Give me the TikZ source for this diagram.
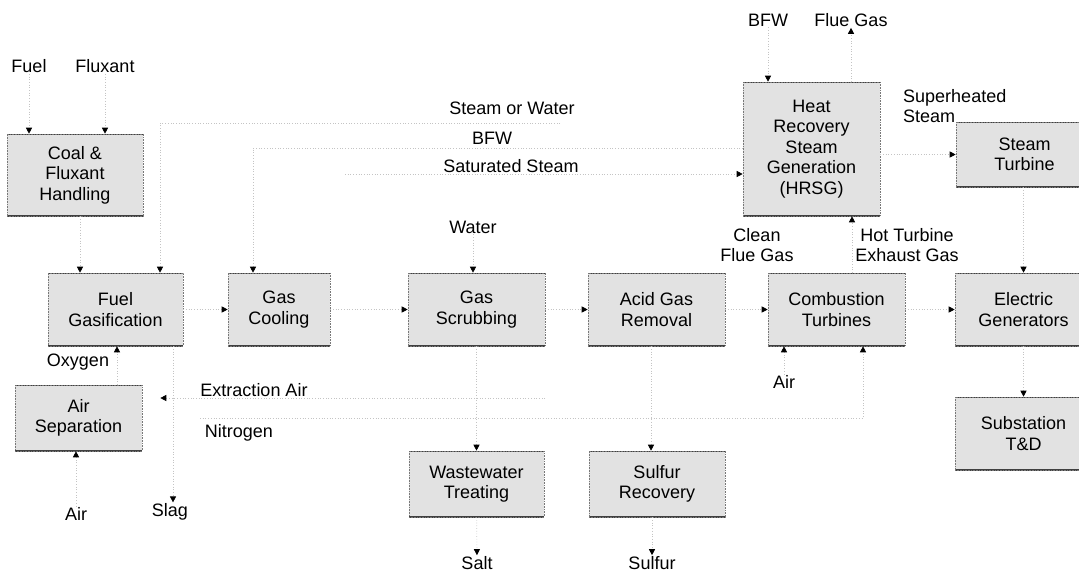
\documentclass[tikz,border=0pt]{standalone}
\usepackage{fontspec}
\setmainfont{Liberation Sans}
\usepackage{tikz}
\usetikzlibrary{arrows.meta, positioning, calc}
\definecolor{unitgray}{RGB}{226,226,226}
\definecolor{edgegray}{RGB}{120,120,120}
\definecolor{linegray}{RGB}{196,196,196}
\tikzstyle{unit} = [rectangle, fill=unitgray, draw=edgegray, densely dotted, line width=0.6pt, text centered, align=center, inner sep=0pt, font=\fontsize{18}{20.5}\selectfont,
  path picture={\draw[solid, black!75, line width=1.6pt] (path picture bounding box.north west) -- (path picture bounding box.north east) (path picture bounding box.south west) -- (path picture bounding box.south east);}]
\tikzstyle{tag} = [inner sep=1pt, align=center, font=\fontsize{18}{20.5}\selectfont]
\tikzstyle{flow} = [draw=linegray, dotted, line width=0.7pt, -{Triangle[length=6pt, width=6pt, color=black]}]

\begin{document}
\begin{tikzpicture}[x=1pt, y=-1pt]
\useasboundingbox (0,0) rectangle (1079,574);

% ===== PROCESS UNITS =====
\node (coal) [unit, minimum width=136pt, minimum height=82pt] at (75,175) {Coal \&\\Fluxant\\Handling};
\node (gasif) [unit, minimum width=135pt, minimum height=73pt] at (115.5,309.5) {Fuel\\Gasification};
\node (cooling) [unit, minimum width=102pt, minimum height=73pt] at (279,309.5) {Gas\\Cooling};
\node (scrubbing) [unit, minimum width=137pt, minimum height=73pt] at (476.5,309.5) {Gas\\Scrubbing};
\node (agr) [unit, minimum width=137pt, minimum height=73pt] at (656.5,309.5) {Acid Gas\\Removal};
\node (combustion) [unit, minimum width=137pt, minimum height=73pt] at (836.5,309.5) {Combustion\\Turbines};
\node (generators) [unit, minimum width=137pt, minimum height=73pt] at (1023.5,309.5) {Electric\\Generators};
\node (substation) [unit, minimum width=137pt, minimum height=73pt] at (1023.5,433.5) {Substation\\T\&D};
\node (steamturb) [unit, minimum width=137pt, minimum height=65pt] at (1024.5,154.5) {Steam\\Turbine};
\node (hrsg) [unit, minimum width=137pt, minimum height=134pt] at (811.5,149) {Heat\\Recovery\\Steam\\Generation\\(HRSG)};
\node (airsep) [unit, minimum width=127pt, minimum height=66pt] at (78.5,418) {Air\\Separation};
\node (wastewater) [unit, minimum width=135pt, minimum height=66pt] at (476.5,484) {Wastewater\\Treating};
\node (sulfrec) [unit, minimum width=136pt, minimum height=66pt] at (657,484) {Sulfur\\Recovery};

% ===== STREAM LABELS =====
\node (fuel_lbl) [tag] at (29,66) {Fuel};
\node (fluxant_lbl) [tag] at (105,66) {Fluxant};
\node (oxygen_lbl) [tag] at (78,362) {Oxygen};
\node (xair_lbl) [tag] at (254,390) {Extraction Air};
\node (nitro_lbl) [tag] at (239,433) {Nitrogen};
\node (air_lbl) [tag] at (76,514) {Air};
\node (slag_lbl) [tag] at (170,512) {Slag};
\node (sw_lbl) [tag] at (512,108) {Steam or Water};
\node (bfw_lbl) [tag] at (492,138) {BFW};
\node (sat_lbl) [tag] at (511,166) {Saturated Steam};
\node (water_lbl) [tag] at (473,227) {Water};
\node (salt_lbl) [tag] at (477,563) {Salt};
\node (sulfur_lbl) [tag] at (652,563) {Sulfur};
\node (clean_lbl) [tag] at (757,245) {Clean\\Flue Gas};
\node (hot_lbl) [tag] at (907,245) {Hot Turbine\\Exhaust Gas};
\node (bfwtop_lbl) [tag] at (768,20) {BFW};
\node (flue_lbl) [tag] at (851,20) {Flue Gas};
\node (super_lbl) [tag, anchor=west, align=left] at (902,106) {Superheated\\Steam};
\node (ctair_lbl) [tag] at (784,382) {Air};

% free ends of the long lines
\coordinate (sw_end) at (560,123);
\coordinate (bfw_row) at (0,148);
\coordinate (sat_start) at (345,174);
\coordinate (xair_end) at (545,398);
\coordinate (nitro_start) at (200,418);

% ===== ARROWS =====
% feeds and gasifier
\draw [flow] (fuel_lbl) -- (fuel_lbl |- coal.north);
\draw [flow] (fluxant_lbl) -- (fluxant_lbl |- coal.north);
\draw [flow] ([xshift=5pt]coal.south) -- ([xshift=5pt]coal.south |- gasif.north);
\draw [flow] (sw_end) -| ([xshift=44.5pt]gasif.north);
\draw [flow] ([xshift=1.5pt]gasif.south |- airsep.north) -- ([xshift=1.5pt]gasif.south);
\draw [flow] ([xshift=57.5pt]gasif.south) -- ([xshift=57.5pt]gasif.south |- slag_lbl.north);

% air separation
\draw [flow] (air_lbl) -- (air_lbl |- airsep.south);
\draw [flow, shorten >=18pt] (xair_end) -- (airsep.east |- xair_end);
\draw [flow] (nitro_start) -| ([xshift=26.5pt]combustion.south);

% gas train
\draw [flow] (gasif) -- (cooling);
\draw [flow] (cooling) -- (scrubbing);
\draw [flow] (scrubbing) -- (agr);
\draw [flow] (agr) -- (combustion);
\draw [flow] (combustion) -- (generators);
\draw [flow] (generators) -- (substation);

% water and steam
\draw [flow] (hrsg.west |- bfw_row) -| ([xshift=-26pt]cooling.north);
\draw [flow] (sat_start) -- (hrsg.west |- sat_start);
\draw [flow] (water_lbl) -- (water_lbl |- scrubbing.north);
\draw [flow] (scrubbing) -- (wastewater);
\draw [flow] (wastewater) -- (salt_lbl);
\draw [flow] ([xshift=-5.5pt]agr.south) -- ([xshift=-5.5pt]agr.south |- sulfrec.north);
\draw [flow] (sulfrec.south -| sulfur_lbl) -- (sulfur_lbl);

% heat recovery and power
\draw [flow] (bfwtop_lbl) -- (bfwtop_lbl |- hrsg.north);
\draw [flow] (hrsg.north -| flue_lbl) -- (flue_lbl);
\draw [flow] ([xshift=15.5pt]combustion.north) -- ([xshift=15.5pt]combustion.north |- hrsg.south);
\draw [flow] (hrsg.east |- steamturb.west) -- (steamturb.west);
\draw [flow] (steamturb.south -| generators.north) -- (generators.north);
\draw [flow] (ctair_lbl) -- (ctair_lbl |- combustion.south);

\end{tikzpicture}
\end{document}
